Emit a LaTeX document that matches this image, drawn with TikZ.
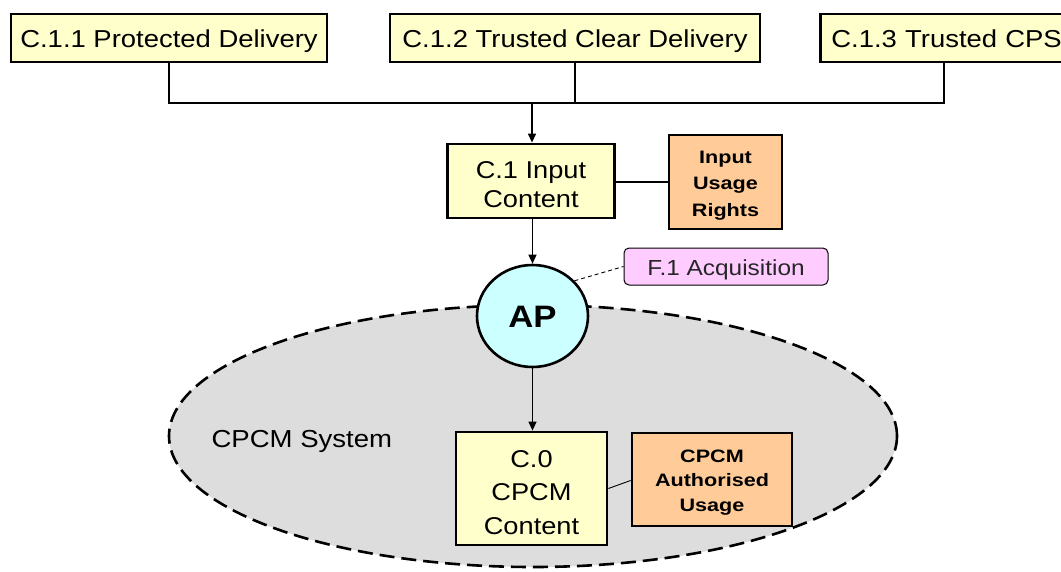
\documentclass[tikz,border=0pt]{standalone}
\usepackage{fontspec}
\setmainfont{Liberation Sans}[FakeStretch=1.12]
\newfontfamily\boldwide{Liberation Sans}[FakeStretch=1.2]
\usetikzlibrary{arrows.meta,shapes.geometric,calc}
\definecolor{ybox}{HTML}{FFFFCC}
\definecolor{obox}{HTML}{FFCC99}
\definecolor{pbox}{HTML}{FFCCFF}
\definecolor{cbox}{HTML}{CCFFFF}
\definecolor{gsys}{HTML}{DDDDDD}
% lowered text block, keeping its extents: #1 = amount, #2 = lines
\newcommand\lowtxt[2]{\raisebox{-#1}[\height][\depth]{\begin{tabular}{@{}c@{}}#2\end{tabular}}}
\tikzset{
  x=1pt,y=-1pt,
  ybx/.style={draw=black,line width=2.8pt,fill=ybox,inner sep=0pt,align=center},
  obx/.style={draw=black,line width=2.8pt,fill=obox,inner sep=0pt,align=center},
  conn/.style={draw=black,line width=1.3pt},
  arr/.style={conn,-{Triangle[length=9pt,width=8pt]}},
}
\begin{document}
\begin{tikzpicture}
\useasboundingbox (0,0) rectangle (1061,571);
% system ellipse
\node[ellipse,draw=black,line width=2.6pt,dash pattern=on 15pt off 7pt,fill=gsys,
  minimum width=728,minimum height=262,inner sep=0pt] (sys) at (533,436) {};
\node[anchor=base west,font=\fontsize{24.6}{29}\selectfont] (systxt) at (208,447) {CPCM System};
% top boxes
\node[ybx,minimum width=316,minimum height=48,font=\fontsize{24.5}{29}\selectfont] (c11) at (169,38)
  {\lowtxt{3.2pt}{C.1.1 Protected Delivery}};
\node[ybx,minimum width=370,minimum height=48,font=\fontsize{24.5}{29}\selectfont] (c12) at (575,38)
  {\lowtxt{3.2pt}{C.1.2 Trusted Clear Delivery}};
\node[ybx,minimum height=48,text width=260,align=left,inner xsep=11,anchor=west,
  font=\fontsize{24.5}{29}\selectfont] (c13) at (819,38)
  {\lowtxt{3.2pt}{C.1.3 Trusted CPS}};
\coordinate (c13b) at ($(c13.south west)+(125,0)$);
% input content
\node[ybx,minimum width=167,minimum height=74,font=\fontsize{24.3}{29}\selectfont] (c1) at (531,181)
  {\lowtxt{5.7pt}{C.1 Input\\Content}};
\node[obx,minimum width=113,minimum height=94,font=\boldwide\bfseries\fontsize{18}{26.5}\selectfont] (iur) at (725.5,182)
  {\lowtxt{2.2pt}{Input\\Usage\\Rights}};
% AP
\node[ellipse,draw=black,line width=2.6pt,fill=cbox,minimum width=111,minimum height=102,
  inner sep=0pt,font=\bfseries\fontsize{31}{37}\selectfont] (ap) at (532.5,316) {\lowtxt{3.6pt}{AP}};
\node[draw=black,line width=1pt,rounded corners=5pt,fill=pbox,minimum width=204,minimum height=37,
  inner sep=0pt,font=\fontsize{21.8}{26}\selectfont,text=black!85] (f1) at (726,266.5)
  {\lowtxt{3.3pt}{F.1 Acquisition}};
% C.0
\node[ybx,minimum width=151,minimum height=113,font=\fontsize{24.3}{33.5}\selectfont] (c0) at (531.5,488.5)
  {\lowtxt{5.3pt}{C.0\\CPCM\\Content}};
\node[obx,minimum width=160,minimum height=93,font=\boldwide\bfseries\fontsize{18}{24.5}\selectfont] (cau) at (712,479.5)
  {\lowtxt{2.1pt}{CPCM\\Authorised\\Usage}};
% connectors
\coordinate (j) at (532,103);
\draw[conn] (c11.south) |- (j) -| (c13b);
\draw[conn] (c12.south) -- (c12.south |- j);
\draw[arr] (j) -- (c1.north -| j);
\draw[conn] (c1.east |- iur.west) -- (iur.west);
\draw[arr] (c1.south -| ap.north) -- (ap.north);
\draw[conn,line width=0.9pt,dash pattern=on 4pt off 3pt] (ap.40) -- (f1.west);
\draw[arr] (ap.south) -- (c0.north -| ap.south);
\draw[conn,line width=0.9pt] (c0.east) -- ($(cau.west)+(0,1)$);
\end{tikzpicture}
\end{document}
